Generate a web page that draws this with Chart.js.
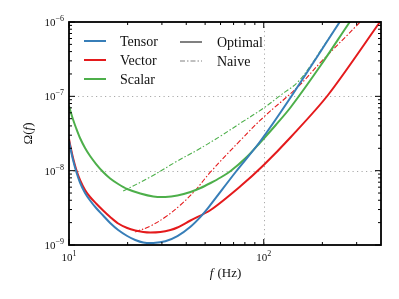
<!DOCTYPE html>
<html><head><meta charset="utf-8">
<script src="https://cdn.jsdelivr.net/npm/chart.js@4"></script>
<style>html,body{margin:0;padding:0;background:#fff;}</style>
</head><body>
<canvas id="c" width="399" height="299"></canvas>
<script>
// ---- data (frequency in Hz, Omega(f)) ----
const tensorF      = [10, 10.24, 10.49, 10.87, 11.39, 12.09, 12.83, 13.78, 14.97, 16.27, 17.89, 19.91, 21.89, 24.07, 27.10, 31.24, 36.04, 42.05, 47.34, 52.06, 71.74, 95.37, 134.6, 243.6, 274.2];
const tensorOmega  = [2.507e-8, 1.839e-8, 1.391e-8, 9.897e-9, 6.931e-9, 5.006e-9, 3.970e-9, 3.146e-9, 2.493e-9, 1.977e-9, 1.591e-9, 1.322e-9, 1.168e-9, 1.080e-9, 1.064e-9, 1.121e-9, 1.314e-9, 1.758e-9, 2.387e-9, 3.214e-9, 9.595e-9, 2.430e-8, 8.927e-8, 9.695e-7, 1.543e-6];
const vectorF      = [10, 10.24, 10.49, 10.87, 11.39, 12.09, 12.83, 13.78, 14.97, 16.27, 17.89, 19.91, 21.89, 24.07, 26.15, 29.45, 33.16, 36.04, 42.05, 53.33, 76.11, 100, 137.8, 213.8, 391.5, 400];
const vectorOmega  = [2.667e-8, 1.956e-8, 1.480e-8, 1.053e-8, 7.489e-9, 5.492e-9, 4.424e-9, 3.617e-9, 2.911e-9, 2.380e-9, 1.946e-9, 1.693e-9, 1.567e-9, 1.496e-9, 1.473e-9, 1.496e-9, 1.591e-9, 1.720e-9, 2.136e-9, 2.958e-9, 6.217e-9, 1.192e-8, 2.837e-8, 1.042e-7, 9.695e-7, 1.064e-6];
const scalarF      = [10, 10.24, 10.49, 10.87, 11.39, 12.09, 12.83, 13.78, 14.97, 16.27, 17.89, 19.91, 23.23, 27.10, 31.24, 36.04, 42.05, 47.34, 53.33, 60.04, 67.59, 80.77, 95.37, 115.3, 137.8, 196.7, 274.2, 298.0];
const scalarOmega  = [7.413e-8, 5.968e-8, 4.880e-8, 3.750e-8, 2.751e-8, 2.018e-8, 1.575e-8, 1.229e-8, 9.595e-9, 7.846e-9, 6.616e-9, 5.665e-9, 4.929e-9, 4.493e-9, 4.424e-9, 4.634e-9, 5.164e-9, 5.843e-9, 6.824e-9, 8.091e-9, 9.897e-9, 1.480e-8, 2.357e-8, 4.116e-8, 7.186e-8, 2.640e-7, 9.695e-7, 1.322e-6];
const vectorNaiveF     = [21.88, 26.15, 31.24, 37.35, 44.62, 53.32, 76.11, 100, 149.7, 196.7, 308.8, 335.6];
const vectorNaiveOmega = [1.50e-9, 1.80e-9, 2.38e-9, 3.45e-9, 5.49e-9, 9.60e-9, 2.58e-8, 5.27e-8, 1.34e-7, 2.90e-7, 9.69e-7, 1.24e-6];
const scalarNaiveF     = [18.98, 26.15, 36.04, 45.69, 60.04, 76.11, 100, 122.4, 149.7, 174.7, 201.4, 243.6, 274.2];
const scalarNaiveOmega = [5.32e-9, 8.22e-9, 1.35e-8, 1.90e-8, 2.92e-8, 4.38e-8, 6.97e-8, 1.04e-7, 1.56e-7, 2.64e-7, 4.61e-7, 9.69e-7, 1.54e-6];

const xMajorTicks = [10, 100];
const xMinorTicks = [20, 30, 40, 50, 60, 70, 80, 90, 200, 300];
const yMajorTicks = [1e-9, 1e-8, 1e-7, 1e-6];
const xTickLabels = [['10', '1'], ['10', '2']];
const yTickLabels = [['10', '\u22129'], ['10', '\u22128'], ['10', '\u22127'], ['10', '\u22126']];
const xTitle = ['f', ' (Hz)'];
const yTitle = ['\u03A9(', 'f', ')'];
const polNames = ['Tensor', 'Vector', 'Scalar'];
const methodNames = ['Optimal', 'Naive'];

const BLUE = '#377eb8', RED = '#e41a1c', GREEN = '#4daf4a', GRAY = '#808080';
const DASHDOT = [5, 2, 1.5, 2];
const SERIF = '"Liberation Serif", "DejaVu Serif", serif';

function pts(xs, ys) { return xs.map((x, i) => ({ x: x, y: ys[i] })); }

const decor = {
  id: 'decor',
  beforeDatasetsDraw(chart) {
    const { ctx, chartArea: a, scales: { x, y } } = chart;
    ctx.save();
    ctx.strokeStyle = '#aaaaaa';
    ctx.lineWidth = 1;
    ctx.setLineDash([1.2, 3.3]);
    xMajorTicks.forEach(v => {
      const px = Math.round(x.getPixelForValue(v)) + 0.5;
      if (px > a.left + 2 && px < a.right - 2) { ctx.beginPath(); ctx.moveTo(px, a.top); ctx.lineTo(px, a.bottom); ctx.stroke(); }
    });
    yMajorTicks.forEach(v => {
      const py = Math.round(y.getPixelForValue(v)) + 0.5;
      if (py > a.top + 2 && py < a.bottom - 2) { ctx.beginPath(); ctx.moveTo(a.left, py); ctx.lineTo(a.right, py); ctx.stroke(); }
    });
    ctx.restore();
  },
  afterDatasetsDraw(chart) {
    const { ctx, chartArea: a, scales: { x, y } } = chart;
    ctx.save();
    ctx.strokeStyle = '#000';
    ctx.setLineDash([]);
    ctx.lineWidth = 1;
    const xt = (v, len) => {
      const px = x.getPixelForValue(v);
      ctx.beginPath(); ctx.moveTo(px, a.bottom); ctx.lineTo(px, a.bottom - len);
      ctx.moveTo(px, a.top); ctx.lineTo(px, a.top + len); ctx.stroke();
    };
    const yt = (v, len) => {
      const py = y.getPixelForValue(v);
      ctx.beginPath(); ctx.moveTo(a.left, py); ctx.lineTo(a.left + len, py);
      ctx.moveTo(a.right, py); ctx.lineTo(a.right - len, py); ctx.stroke();
    };
    xMajorTicks.forEach(v => xt(v, 6));
    xMinorTicks.forEach(v => xt(v, 3));
    yMajorTicks.forEach((v, i) => {
      yt(v, 6);
      if (i < yMajorTicks.length - 1) for (let m = 2; m <= 9; m++) yt(v * m, 3);
    });
    ctx.lineWidth = 1.8;
    ctx.strokeRect(a.left, a.top, a.right - a.left, a.bottom - a.top);

    ctx.fillStyle = '#111';
    ctx.textBaseline = 'alphabetic';
    const big = '11px ' + SERIF, small = '8px ' + SERIF;
    yMajorTicks.forEach((v, i) => {
      const py = y.getPixelForValue(v);
      const [b, e] = yTickLabels[i];
      ctx.font = small; const we = ctx.measureText(e).width;
      ctx.font = big; const wb = ctx.measureText(b).width;
      const right = a.left - 5;
      ctx.textAlign = 'left';
      ctx.fillText(b, right - we - wb, py + 4);
      ctx.font = small; ctx.fillText(e, right - we, py - 1);
    });
    xMajorTicks.forEach((v, i) => {
      const px = x.getPixelForValue(v);
      const [b, e] = xTickLabels[i];
      ctx.font = small; const we = ctx.measureText(e).width;
      ctx.font = big; const wb = ctx.measureText(b).width;
      const left = px - (wb + we) / 2;
      ctx.textAlign = 'left';
      ctx.fillText(b, left, a.bottom + 16);
      ctx.font = small; ctx.fillText(e, left + wb, a.bottom + 11);
    });

    const tf = '13px ' + SERIF, ti = 'italic 13px ' + SERIF;
    ctx.font = ti; const w1 = ctx.measureText(xTitle[0]).width;
    ctx.font = tf; const w2 = ctx.measureText(xTitle[1]).width;
    let sx = (a.left + a.right) / 2 - (w1 + w2) / 2;
    ctx.font = ti; ctx.fillText(xTitle[0], sx, a.bottom + 32);
    ctx.font = tf; ctx.fillText(xTitle[1], sx + w1 + 1, a.bottom + 32);

    ctx.save();
    ctx.translate(a.left - 37, (a.top + a.bottom) / 2);
    ctx.rotate(-Math.PI / 2);
    const parts = [[yTitle[0], tf], [yTitle[1], ti], [yTitle[2], tf]];
    let tot = 0; parts.forEach(p => { ctx.font = p[1]; tot += ctx.measureText(p[0]).width; });
    let cx = -tot / 2;
    parts.forEach(p => { ctx.font = p[1]; ctx.fillText(p[0], cx, 0); cx += ctx.measureText(p[0]).width; });
    ctx.restore();

    const lf = '14px ' + SERIF;
    ctx.font = lf;
    const cols = [BLUE, RED, GREEN];
    polNames.forEach((n, i) => {
      const ly = a.top + 19 + i * 19;
      ctx.strokeStyle = cols[i]; ctx.lineWidth = 2; ctx.setLineDash([]);
      ctx.beginPath(); ctx.moveTo(a.left + 15, ly); ctx.lineTo(a.left + 37, ly); ctx.stroke();
      ctx.fillStyle = '#111'; ctx.fillText(n, a.left + 51, ly + 4.5);
    });
    methodNames.forEach((n, i) => {
      const ly = a.top + 20 + i * 19;
      ctx.strokeStyle = GRAY;
      if (i === 0) { ctx.lineWidth = 2; ctx.setLineDash([]); } else { ctx.lineWidth = 1; ctx.setLineDash(DASHDOT); }
      ctx.beginPath(); ctx.moveTo(a.left + 111, ly); ctx.lineTo(a.left + 133, ly); ctx.stroke();
      ctx.fillStyle = '#111'; ctx.fillText(n, a.left + 148, ly + 4.5);
    });
    ctx.restore();
  }
};

const solid = (label, xs, ys, color, order) => ({
  label, data: pts(xs, ys), borderColor: color, borderWidth: 2, fill: false,
  pointRadius: 0, tension: 0.3, order
});
const dashed = (label, xs, ys, color, order) => ({
  label, data: pts(xs, ys), borderColor: color, borderWidth: 1.1, borderDash: DASHDOT, fill: false,
  pointRadius: 0, tension: 0.4, order
});

new Chart(document.getElementById('c'), {
  type: 'line',
  data: {
    datasets: [
      solid('Tensor Optimal', tensorF, tensorOmega, BLUE, 1),
      solid('Vector Optimal', vectorF, vectorOmega, RED, 3),
      solid('Scalar Optimal', scalarF, scalarOmega, GREEN, 2),
      dashed('Vector Naive', vectorNaiveF, vectorNaiveOmega, RED, 5),
      dashed('Scalar Naive', scalarNaiveF, scalarNaiveOmega, GREEN, 4)
    ]
  },
  options: {
    responsive: false, animation: false, devicePixelRatio: 1,
    layout: { padding: { left: 69, right: 18, top: 22, bottom: 54 } },
    plugins: { legend: { display: false }, tooltip: { enabled: false } },
    scales: {
      x: { type: 'logarithmic', min: 10, max: 400, display: false },
      y: { type: 'logarithmic', min: 1e-9, max: 1e-6, display: false }
    }
  },
  plugins: [decor]
});
</script>
</body></html>
